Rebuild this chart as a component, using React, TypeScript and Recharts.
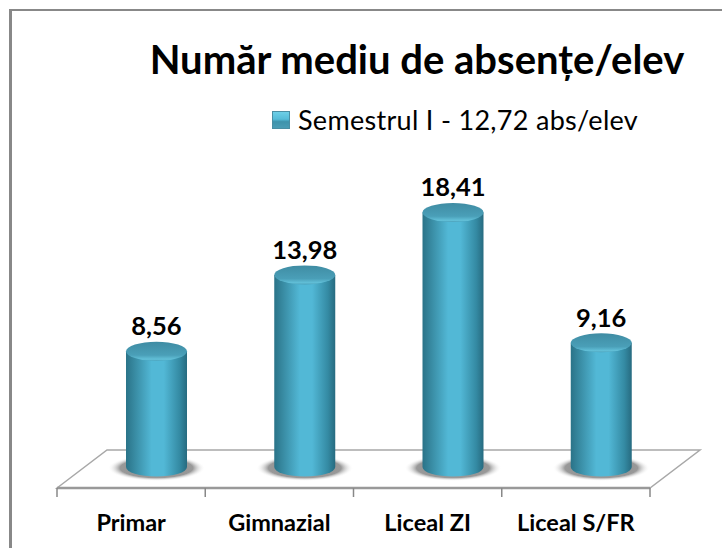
import React from "react";
import { BarChart, Bar, XAxis, YAxis, Legend, LabelList } from "recharts";

const categories = ["Primar", "Gimnazial", "Liceal ZI", "Liceal S/FR"];
const seriesValues = [8.56, 13.98, 18.41, 9.16];
const seriesName = "Semestrul I - 12,72 abs/elev";
const title = "Număr mediu de absențe/elev";
const labelsText = ["8,56", "13,98", "18,41", "9,16"];

const data = categories.map((c, i) => ({ name: c, value: seriesValues[i], label: labelsText[i] }));

const FONT = "Lato, 'Open Sans', sans-serif";
const W = 722, H = 548;
const LEFT = 57, RIGHT = 650, AXIS_Y = 488;
const DX = 25, DY = -16, FLOOR_INSET = 5;
const BAND = (RIGHT - LEFT) / categories.length;

function Cylinder(props: any) {
  const { x, y, width, height } = props;
  const cx = x + width / 2 + DX;
  const top = y + DY;
  const bottom = y + height + DY - FLOOR_INSET;
  const rx = width / 2;
  const ry = 9.5;
  return (
    <g>
      <ellipse cx={cx} cy={bottom + 1} rx={rx + 18} ry={13} fill="url(#shadow)" />
      <path
        d={`M${cx - rx},${top} L${cx - rx},${bottom} A${rx},${ry} 0 0 0 ${cx + rx},${bottom} L${cx + rx},${top} Z`}
        fill="url(#body)"
      />
      <ellipse cx={cx} cy={top} rx={rx} ry={ry} fill="url(#cap)" />
    </g>
  );
}

function BarLabel(props: any) {
  const { x, y, width, value } = props;
  return (
    <text x={x + width / 2 + DX} y={y + DY - 16} textAnchor="middle" fontFamily={FONT} fontWeight={700} fontSize={25.5} fill="#000">
      {value}
    </text>
  );
}

function AxisTick(props: any) {
  const { x, payload, index } = props;
  const left = x - BAND / 2;
  return (
    <g>
      <line x1={left} y1={AXIS_Y} x2={left} y2={AXIS_Y + 9} stroke="#888" strokeWidth={1.5} />
      {index === categories.length - 1 && (
        <line x1={left + BAND} y1={AXIS_Y} x2={left + BAND} y2={AXIS_Y + 9} stroke="#888" strokeWidth={1.5} />
      )}
      <text x={x} y={AXIS_Y + 43} textAnchor="middle" fontFamily={FONT} fontWeight={700} fontSize={23.5} fill="#000">
        {payload.value}
      </text>
    </g>
  );
}

function LegendBox() {
  return (
    <div style={{ display: "flex", alignItems: "center", fontFamily: FONT, fontSize: 27, letterSpacing: 0.3, color: "#000", whiteSpace: "nowrap", lineHeight: "30px" }}>
      <svg width={18} height={18} style={{ marginRight: 8 }}>
        <defs>
          <linearGradient id="legendFill" x1="0" y1="0" x2="0" y2="1">
            <stop offset="0" stopColor="#6fd0e8" />
            <stop offset="0.45" stopColor="#55bcd8" />
            <stop offset="0.6" stopColor="#3f93ab" />
            <stop offset="1" stopColor="#4b9db5" />
          </linearGradient>
        </defs>
        <rect x={0.5} y={0.5} width={17} height={17} fill="url(#legendFill)" stroke="#4a8ea3" strokeWidth={1} />
      </svg>
      <span>{seriesName}</span>
    </div>
  );
}

export default function App() {
  return (
    <div style={{ position: "absolute", left: 0, top: 0, width: W, height: H, background: "#fff", overflow: "hidden" }}>
      <BarChart
        width={W}
        height={H}
        data={data}
        margin={{ top: 176, right: W - RIGHT, bottom: H - AXIS_Y - 30, left: LEFT }}
      >
        <defs>
          <linearGradient id="body" x1="0" y1="0" x2="1" y2="0">
            <stop offset="0" stopColor="#2a7388" />
            <stop offset="0.12" stopColor="#36879e" />
            <stop offset="0.42" stopColor="#52b8d6" />
            <stop offset="0.62" stopColor="#52b8d6" />
            <stop offset="0.88" stopColor="#348aa3" />
            <stop offset="1" stopColor="#276b80" />
          </linearGradient>
          <linearGradient id="cap" x1="0" y1="0" x2="0" y2="1">
            <stop offset="0" stopColor="#3f8ca3" />
            <stop offset="0.7" stopColor="#4a9fb8" />
            <stop offset="0.92" stopColor="#62c0d8" />
            <stop offset="1" stopColor="#4a9fb8" />
          </linearGradient>
          <radialGradient id="shadow">
            <stop offset="0" stopColor="#888" />
            <stop offset="0.75" stopColor="#999" />
            <stop offset="1" stopColor="#fff" stopOpacity={0} />
          </radialGradient>
        </defs>
        <rect x={9} y={9} width={3} height={H} fill="#888" />
        <rect x={9} y={9} width={W} height={2} fill="#888" />
        <polygon
          points={`${LEFT},${AXIS_Y} ${LEFT + 50},${AXIS_Y - 38} ${RIGHT + 50},${AXIS_Y - 38} ${RIGHT},${AXIS_Y}`}
          fill="#fff"
          stroke="#a8a8a8"
          strokeWidth={1.5}
        />
        <text x={417} y={74} textAnchor="middle" fontFamily={FONT} fontWeight={700} fontSize={40} fill="#000">
          {title}
        </text>
        <YAxis hide domain={[0, 20]} />
        <XAxis dataKey="name" interval={0} tick={<AxisTick />} tickLine={false} axisLine={{ stroke: "#999", strokeWidth: 2.5 }} />
        <Legend
          verticalAlign="top"
          align="left"
          wrapperStyle={{ position: "absolute", left: 272, top: 105, width: "auto" }}
          content={<LegendBox />}
        />
        <Bar dataKey="value" name={seriesName} barSize={61} shape={<Cylinder />} isAnimationActive={false}>
          <LabelList dataKey="label" content={<BarLabel />} />
        </Bar>
      </BarChart>
    </div>
  );
}
